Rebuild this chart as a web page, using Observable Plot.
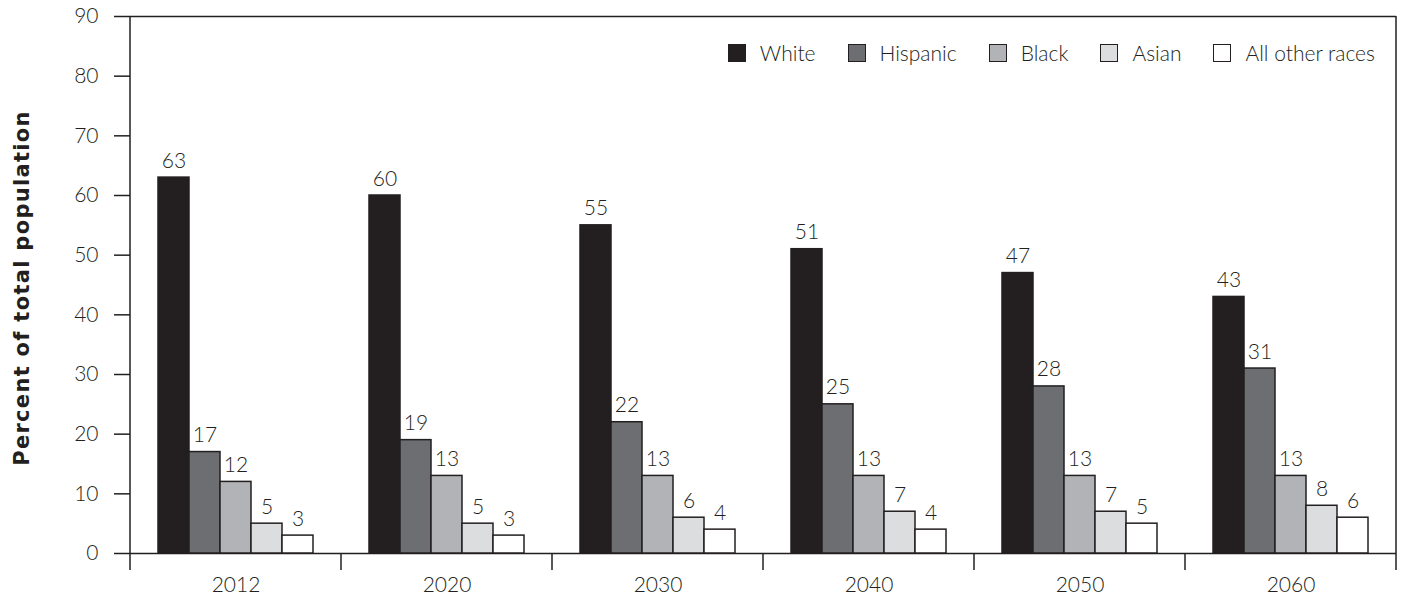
<!DOCTYPE html>
<html>
<head>
<meta charset="utf-8">
<script src="https://cdn.jsdelivr.net/npm/d3@7"></script>
<script src="https://cdn.jsdelivr.net/npm/@observablehq/plot@0.6"></script>
<style>
  body { margin: 0; background: #fff; }
  #wrap { position: relative; width: 1407px; height: 599px; font-family: Lato, "Open Sans", sans-serif; color: #231f20; }
  #legend { position: absolute; right: 32px; top: 44px; display: flex; align-items: center; font-size: 21px; font-weight: 300; line-height: 18px; }
  .item { display: flex; align-items: center; margin-left: 32px; }
  .item:first-child { margin-left: 0; }
  .sw { display: inline-block; box-sizing: border-box; width: 18px; height: 18px; border: 1.5px solid #231f20; margin-right: 14px; }
  #ytitle { position: absolute; left: 22px; top: 288px; transform: translate(-50%, -50%) rotate(-90deg); white-space: nowrap; font-size: 21px; letter-spacing: 1.3px; font-weight: 700; font-family: "DejaVu Sans", sans-serif; }
</style>
</head>
<body>
<div id="wrap">
  <div id="chart"></div>
  <div id="ytitle">Percent of total population</div>
  <div id="legend"></div>
</div>
<script>
const years = ["2012", "2020", "2030", "2040", "2050", "2060"];
const races = ["White", "Hispanic", "Black", "Asian", "All other races"];
const raceColors = ["#231f20", "#6d6e71", "#b1b3b6", "#dcddde", "#ffffff"];
const whiteValues = [63, 60, 55, 51, 47, 43];
const hispanicValues = [17, 19, 22, 25, 28, 31];
const blackValues = [12, 13, 13, 13, 13, 13];
const asianValues = [5, 5, 6, 7, 7, 8];
const otherValues = [3, 3, 4, 4, 5, 6];
const yTicks = [0, 10, 20, 30, 40, 50, 60, 70, 80, 90];

const series = [whiteValues, hispanicValues, blackValues, asianValues, otherValues];
const data = years.flatMap((year, i) => races.map((race, j) => ({year, race, value: series[j][i]})));

const ink = "#231f20";

const plot = Plot.plot({
  width: 1407,
  height: 599,
  marginLeft: 128,
  marginRight: 9,
  marginTop: 16,
  marginBottom: 46,
  style: {fontFamily: "Lato, 'Open Sans', sans-serif", fontSize: "21px", fontWeight: 300, color: ink, background: "white"},
  fx: {domain: years, padding: 0, label: null, axis: null},
  x: {domain: races, paddingInner: 0, paddingOuter: 0.83, axis: null},
  y: {domain: [0, 90], label: null},
  color: {domain: races, range: raceColors},
  marks: [
    Plot.ruleY([0, 90], {stroke: ink, strokeWidth: 1.5}),
    Plot.barY(data, {fx: "year", x: "race", y: "value", fill: "race", stroke: ink, strokeWidth: 1.5}),
    Plot.text(data, {fx: "year", x: "race", y: "value", text: d => String(d.value), lineAnchor: "bottom", dy: -10, fill: ink}),
    Plot.axisY({ticks: yTicks, tickSize: 16, tickPadding: 16, stroke: ink, strokeWidth: 1.5, label: null, fill: ink}),
    Plot.axisFx({anchor: "bottom", tickSize: 0, tickPadding: 24, label: null, fill: ink})
  ]
});

document.getElementById("chart").appendChild(plot);

// frame sides and category boundary ticks, placed with the plot's own scales
const fx = plot.scale("fx");
const y = plot.scale("y");
const svg = d3.select(plot);
const y0 = y.apply(0), yTop = y.apply(90);
const lastRight = fx.apply(years[years.length - 1]) + fx.bandwidth;
const g = svg.append("g").attr("stroke", ink).attr("stroke-width", 1.5);
g.append("line").attr("x1", fx.apply(years[0])).attr("x2", fx.apply(years[0])).attr("y1", yTop).attr("y2", y0 + 17);
g.append("line").attr("x1", lastRight).attr("x2", lastRight).attr("y1", yTop).attr("y2", y0 + 17);
years.slice(1).forEach(yr => {
  const xb = fx.apply(yr);
  g.append("line").attr("x1", xb).attr("x2", xb).attr("y1", y0).attr("y2", y0 + 17);
});

// legend
const legend = d3.select("#legend");
races.forEach((r, i) => {
  const it = legend.append("div").attr("class", "item");
  it.append("span").attr("class", "sw").style("background", raceColors[i]);
  it.append("span").text(r);
});
</script>
</body>
</html>
